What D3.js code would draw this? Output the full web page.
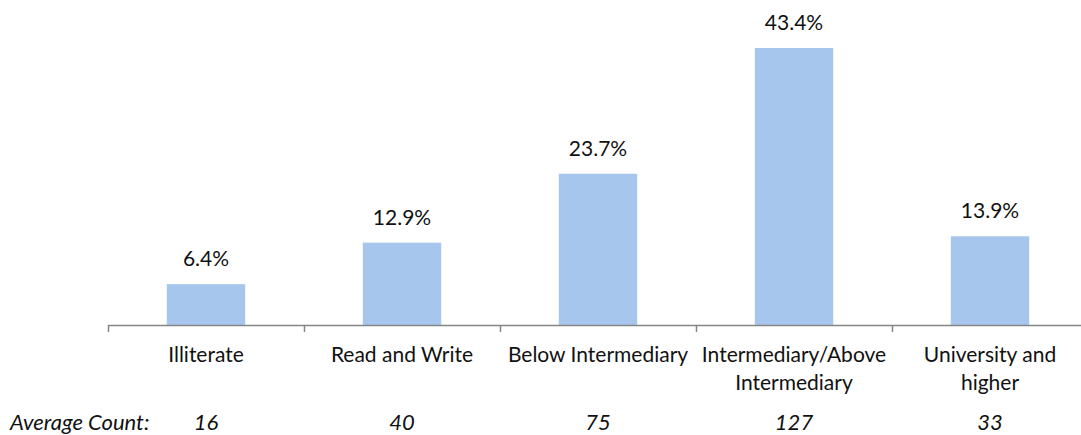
<!DOCTYPE html>
<html><head><meta charset="utf-8">
<script src="https://cdn.jsdelivr.net/npm/d3@7"></script>
<style>body{margin:0;background:#fff}svg{display:block}</style>
</head><body>
<script>
const categories = ["Illiterate", "Read and Write", "Below Intermediary", "Intermediary/Above Intermediary", "University and higher"];
const categoryLines = [["Illiterate"], ["Read and Write"], ["Below Intermediary"], ["Intermediary/Above", "Intermediary"], ["University and", "higher"]];
const percents = [6.4, 12.9, 23.7, 43.4, 13.9];
const avgCounts = [16, 40, 75, 127, 33];
const rowLabel = "Average Count:";

const W = 1081, H = 435;
const font = "Lato, 'Open Sans', sans-serif";
const svg = d3.select("body").append("svg").attr("width", W).attr("height", H);

const x = d3.scaleBand().domain(categories).range([108, 1088]).paddingInner(0.6).paddingOuter(0.3);
const xb = d3.scaleBand().domain(categories).range([108, 1088]);
const y = d3.scaleLinear().domain([0, 43.4]).range([325, 48]);

svg.selectAll("rect.bar").data(percents).enter().append("rect")
  .attr("x", (d, i) => x(categories[i]))
  .attr("width", x.bandwidth())
  .attr("y", d => y(d))
  .attr("height", d => y(0) - y(d))
  .attr("fill", "#A7C6ED");

svg.selectAll("text.val").data(percents).enter().append("text")
  .attr("x", (d, i) => x(categories[i]) + x.bandwidth() / 2)
  .attr("y", d => y(d) - 18)
  .attr("text-anchor", "middle")
  .attr("font-family", font).attr("font-size", 21).attr("fill", "#111")
  .text(d => d.toFixed(1) + "%");

// axis
const axisG = svg.append("g");
axisG.append("line").attr("x1", 108).attr("x2", 1088).attr("y1", 325.5).attr("y2", 325.5)
  .attr("stroke", "#868686").attr("stroke-width", 1.5);
const tickXs = categories.map(c => xb(c)).concat([1088]);
axisG.selectAll("line.tick").data(tickXs).enter().append("line")
  .attr("x1", d => Math.round(d) + 0.5).attr("x2", d => Math.round(d) + 0.5)
  .attr("y1", 325).attr("y2", 332)
  .attr("stroke", "#868686").attr("stroke-width", 1.5);

// category labels
categoryLines.forEach((lines, i) => {
  const cx = xb(categories[i]) + xb.bandwidth() / 2;
  lines.forEach((ln, j) => {
    svg.append("text").attr("x", cx).attr("y", 362 + j * 28)
      .attr("text-anchor", "middle")
      .attr("font-family", font).attr("font-size", 21).attr("fill", "#111")
      .text(ln);
  });
});

// average count row
svg.append("text").attr("x", 10).attr("y", 430)
  .attr("font-family", font).attr("font-size", 22).attr("font-style", "italic").attr("fill", "#111")
  .text(rowLabel);
svg.selectAll("text.cnt").data(avgCounts).enter().append("text")
  .attr("x", (d, i) => xb(categories[i]) + xb.bandwidth() / 2)
  .attr("y", 430)
  .attr("text-anchor", "middle")
  .attr("font-family", font).attr("font-size", 22).attr("font-style", "italic").attr("fill", "#111")
  .text(d => d);
</script>
</body></html>
